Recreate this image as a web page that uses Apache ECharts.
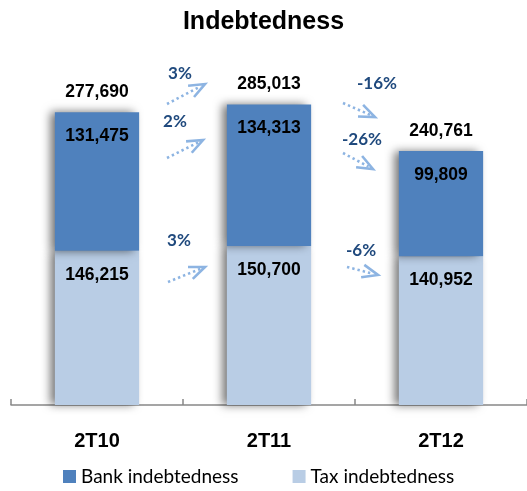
<!DOCTYPE html>
<html><head><meta charset="utf-8">
<script src="https://cdn.jsdelivr.net/npm/echarts@6/dist/echarts.min.js"></script>
<style>html,body{margin:0;padding:0;background:#fff}#c{width:527px;height:491px}</style>
</head><body><div id="c"></div>
<script>
const categories = ['2T10', '2T11', '2T12'];
const bankValues = [131475, 134313, 99809];
const taxValues = [146215, 150700, 140952];
const totalValues = categories.map((c, i) => bankValues[i] + taxValues[i]);
const pctTotal = ['3%', '-16%'];
const pctBank = ['2%', '-26%'];
const pctTax = ['3%', '-6%'];

const fmt = v => v.toLocaleString('en-US');
const chart = echarts.init(document.getElementById('c'));
const valLabel = {
  show: true, position: 'insideTop', distance: 15,
  color: '#000', fontFamily: 'Liberation Sans', fontWeight: 'bold', fontSize: 17.5,
  formatter: p => fmt(p.value)
};
const shadow = { shadowColor: 'rgba(0,0,0,0.55)', shadowBlur: 9, shadowOffsetX: -5 };

// annotation arrows (layout only)
const arrowColor = '#8DB4E2';
const textColor = '#1F497D';
const annos = [
  { t: pctTotal[0], tx: 180, ty: 74, a: [167, 104, 205, 84] },
  { t: pctBank[0], tx: 175, ty: 122, a: [167, 158, 203, 140] },
  { t: pctTax[0], tx: 179, ty: 241, a: [168, 282, 205, 267] },
  { t: pctTotal[1], tx: 377, ty: 84, a: [343, 103, 375, 117] },
  { t: pctBank[1], tx: 362, ty: 140, a: [343, 153, 373, 169] },
  { t: pctTax[1], tx: 361, ty: 251, a: [347, 267, 378, 275] }
];
const graphics = [];
annos.forEach(o => {
  const [x1, y1, x2, y2] = o.a;
  const ang = Math.atan2(y2 - y1, x2 - x1);
  const back = ang + Math.PI;
  const L = 17, da = 22 * Math.PI / 180;
  const ex = x2 - 5 * Math.cos(ang), ey = y2 - 5 * Math.sin(ang);
  graphics.push({ type: 'line', shape: { x1, y1, x2: ex, y2: ey },
    style: { stroke: arrowColor, lineWidth: 2.6, lineDash: [2.4, 3] } });
  graphics.push({ type: 'polyline', shape: { points: [
    [x2 + L * Math.cos(back - da), y2 + L * Math.sin(back - da)], [x2, y2],
    [x2 + L * Math.cos(back + da), y2 + L * Math.sin(back + da)] ] },
    style: { stroke: arrowColor, lineWidth: 2.6, fill: null } });
  graphics.push({ type: 'text', x: o.tx, y: o.ty,
    style: { text: o.t, fill: textColor, fontFamily: 'Lato', fontWeight: 'bold', fontSize: 17,
      align: 'center', verticalAlign: 'middle' } });
});

chart.setOption({
  animation: false,
  title: { text: 'Indebtedness', left: 'center', top: 10, padding: 0,
    textStyle: { fontFamily: 'Liberation Sans', fontWeight: 'bold', fontSize: 25, color: '#000' } },
  legend: {
    data: ['Bank indebtedness', 'Tax indebtedness'], bottom: 0, left: 58,
    itemWidth: 13, itemHeight: 13, itemGap: 54, icon: 'rect',
    textStyle: { fontFamily: 'Lato', fontSize: 19, color: '#000' }
  },
  grid: { left: 11, width: 520, top: 57, bottom: 86 },
  xAxis: {
    type: 'category', data: categories,
    axisLine: { lineStyle: { color: '#888', width: 1.5 } },
    axisTick: { show: true, inside: true, length: 6, lineStyle: { color: '#888', width: 1.5 } },
    axisLabel: { margin: 26, color: '#000', fontFamily: 'Liberation Sans', fontWeight: 'bold', fontSize: 20 }
  },
  yAxis: { type: 'value', min: 0, max: 330000, show: false, splitLine: { show: false } },
  series: [
    { name: 'Tax indebtedness', type: 'bar', stack: 's', barWidth: '49%', data: taxValues,
      itemStyle: Object.assign({ color: '#B9CDE5' }, shadow), label: valLabel },
    { name: 'Bank indebtedness', type: 'bar', stack: 's', data: bankValues,
      itemStyle: Object.assign({ color: '#4F81BD' }, shadow), label: valLabel },
    { name: 'Total', type: 'bar', stack: 's', data: totalValues.map(() => 0),
      itemStyle: { color: 'rgba(0,0,0,0)' }, silent: true,
      label: { show: true, position: 'top', distance: 11, color: '#000',
        fontFamily: 'Liberation Sans', fontWeight: 'bold', fontSize: 17.5,
        formatter: p => fmt(totalValues[p.dataIndex]) } }
  ],
  graphic: graphics
});
</script></body></html>
